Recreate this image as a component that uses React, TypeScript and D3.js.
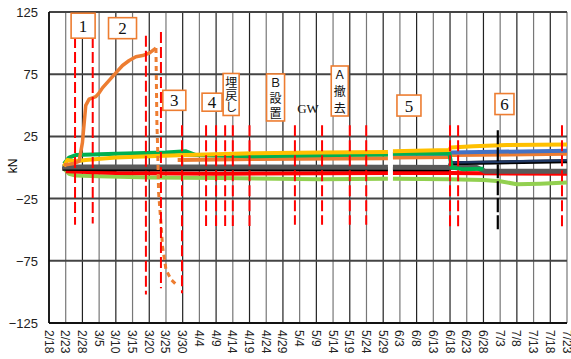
import * as d3 from "d3";
import { useEffect, useRef } from "react";

type Pt = [string, number | null];

// tick labels
const xTickLabels = ["2/18","2/23","2/28","3/5","3/10","3/15","3/20","3/25","3/30","4/4","4/9","4/14","4/19","4/24","4/29","5/4","5/9","5/14","5/19","5/24","5/29","6/3","6/8","6/13","6/18","6/23","6/28","7/3","7/8","7/13","7/18","7/23"];
const yTicks = [125, 75, 25, -25, -75, -125];

// measured series (kN)
const lightGreenSeries: Pt[] = [["2/22.5",-1],["2/24",-5],["2/26",-6.5],["3/5",-7],["3/20",-8],["4/10",-8.5],["5/10",-9.5],["5/30.4",-9],["5/31",null],["5/31.9",-9],["6/18",-9.5],["6/28",-10],["7/3",-11],["7/8",-13.5],["7/15",-13],["7/23",-12]];
const redSeries: Pt[] = [["2/23",-3],["3/10",-4.5],["4/10",-5],["5/30.4",-4.5],["5/31",null],["5/31.9",-4.5],["6/18",-4.5],["7/23",-5]];
const blackSeries: Pt[] = [["2/22",-1],["3/10",-1.5],["5/30.4",-1.5],["5/31",null],["5/31.9",-1.5],["6/17.8",-1.5],["6/18.2",3.5],["7/23",5]];
const navySeries: Pt[] = [["6/18.2",4],["7/23",5.8]];
const graySeries: Pt[] = [["2/22",0.5],["3/20",0.5],["5/30.4",0.3],["5/31",null],["5/31.9",0.3],["6/26",0],["6/28.5",-3],["7/23",-3]];
const orange2Series: Pt[] = [["3/28.5",6],["4/20",6.8],["5/30.4",7.5],["5/31",null],["5/31.9",8],["6/17.8",8.5],["6/18.2",10],["7/23",11]];
const blueSeries: Pt[] = [["3/31",10],["5/30.4",11],["5/31",null],["5/31.9",11],["6/17.8",11],["6/18.2",12],["7/23",13.5]];
const greenSeries: Pt[] = [["2/22.5",3],["2/24",8],["2/26",10],["3/10",11],["3/25",12],["3/31",13],["4/3",10],["4/20",9],["5/15",10],["5/30.4",10.5],["5/31",null],["5/31.9",11],["6/17.8",11.5],["6/18.5",0],["6/22",-1.5],["6/28",-1]];
const yellowSeries: Pt[] = [["2/22.5",1],["2/23.5",6],["2/26",5],["3/1",6],["3/10",8],["3/20",9],["3/31",10],["4/20",11.5],["5/10",12],["5/30.4",12.5],["5/31",null],["5/31.9",13],["6/17.8",14],["6/18.2",16],["6/25",17],["7/5",18],["7/23",18.5]];
const orange1Series: Pt[] = [["2/22.5",2],["2/25",3],["2/27",5],["2/28",20],["3/1",50],["3/2",55],["3/4",57],["3/5",60],["3/6",64],["3/8",70],["3/10",76],["3/12",82],["3/14",86],["3/16",89],["3/18",90],["3/20",92],["3/22",96]];
const collapseSeries: Pt[] = [["3/22",96],["3/22.3",35],["3/22.5",17],["3/22.8",-20],["3/23.5",-45],["3/24",-64],["3/25",-82],["3/26.5",-90],["3/28",-94]];

// event markers: date, top, bottom (kN)
const eventDates = ["2/25.8","3/3.1","3/19","3/23.5","3/29.8","4/6","4/9","4/11.7","4/14","4/19","5/2.6","5/10.7","5/19","5/23.9","6/18","6/20.4","7/21.5"];
const eventTops = [105,105,106,109,34,34,34,34,34,34,34,34,34,34,34,34,34];
const eventBottoms = [-46,-45,-102,-97,-101,-47,-47,-47,-47,-47,-46,-46,-46,-46,-48,-48,-48];
const blackEvent = { date: "7/2.3", top: 30, bottom: -50 };

// annotations
const notes = [
  { text: "1", date: "2/28.2", value: 114, w: 24, h: 25, vertical: false },
  { text: "2", date: "3/12", value: 112, w: 28, h: 21, vertical: false },
  { text: "3", date: "3/27.5", value: 54, w: 23, h: 20, vertical: false },
  { text: "4", date: "4/7.8", value: 52.5, w: 20, h: 18, vertical: false },
  { text: "埋戻し", date: "4/13.5", value: 58.7, w: 16, h: 42, vertical: true },
  { text: "Ｂ設置", date: "4/26.8", value: 56.3, w: 18, h: 47, vertical: true },
  { text: "Ａ撤去", date: "5/16", value: 61.5, w: 17, h: 50, vertical: true },
  { text: "5", date: "6/5.7", value: 49.8, w: 24, h: 21, vertical: false },
  { text: "6", date: "7/4.3", value: 51, w: 19, h: 21, vertical: false },
];
const gwNote = { text: "GW", date: "5/6.5", value: 47.8 };

const parseDate = (s: string) => {
  const [m, d] = s.split("/");
  const dd = parseFloat(d);
  const day = Math.floor(dd);
  return new Date(2015, +m - 1, day, Math.round((dd - day) * 24));
};

const App = () => {
  const ref = useRef<SVGSVGElement>(null);

  useEffect(() => {
    const svg = d3.select(ref.current);
    svg.selectAll("*").remove();

    const x = d3.scaleTime().domain([parseDate("2/18"), parseDate("7/23")]).range([49, 567]);
    const y = d3.scaleLinear().domain([-125, 125]).range([323, 12]);

    svg.append("rect").attr("width", 571).attr("height", 359).attr("fill", "#fff");

    // vertical grid
    svg.append("g")
      .selectAll("line")
      .data(xTickLabels)
      .join("line")
      .attr("x1", (d) => x(parseDate(d)))
      .attr("x2", (d) => x(parseDate(d)))
      .attr("y1", y(125))
      .attr("y2", y(-125))
      .attr("stroke", (d, i) => (i % 2 ? "#777" : "#222"))
      .attr("stroke-width", 1.2);

    // horizontal grid
    svg.append("g")
      .selectAll("line")
      .data(yTicks)
      .join("line")
      .attr("x1", 49)
      .attr("x2", 567)
      .attr("y1", (d) => y(d))
      .attr("y2", (d) => y(d))
      .attr("stroke", "#444")
      .attr("stroke-width", 2);

    // axes frame
    svg.append("line").attr("x1", 49).attr("x2", 49).attr("y1", y(125)).attr("y2", y(-125)).attr("stroke", "#000").attr("stroke-width", 1.5);
    svg.append("line").attr("x1", 49).attr("x2", 567).attr("y1", y(-125)).attr("y2", y(-125)).attr("stroke", "#000").attr("stroke-width", 1.5);

    // y tick labels
    svg.append("g")
      .selectAll("text")
      .data(yTicks)
      .join("text")
      .attr("x", 38)
      .attr("y", (d) => y(d) + 5)
      .attr("text-anchor", "end")
      .attr("font-family", "Liberation Sans, Arial, sans-serif")
      .attr("font-size", 13)
      .attr("fill", "#222")
      .text((d) => String(d).replace("-", "−"));

    // x tick labels
    svg.append("g")
      .selectAll("text")
      .data(xTickLabels)
      .join("text")
      .attr("transform", (d) => `translate(${x(parseDate(d)) - 4.5},330) rotate(90)`)
      .attr("font-family", "Liberation Sans, Arial, sans-serif")
      .attr("font-size", 12)
      .attr("fill", "#222")
      .text((d) => d);

    // y label
    svg.append("text")
      .attr("transform", "translate(17,166) rotate(-90)")
      .attr("text-anchor", "middle")
      .attr("font-family", "Liberation Sans, Arial, sans-serif")
      .attr("font-size", 12)
      .text("kN");

    const line = d3
      .line<Pt>()
      .defined((d) => d[1] !== null)
      .x((d) => x(parseDate(d[0])))
      .y((d) => y(d[1] as number));

    const series: [Pt[], string, number, string?][] = [
      [lightGreenSeries, "#92D050", 4],
      [redSeries, "#FF0000", 4],
      [blackSeries, "#000000", 4],
      [navySeries, "#203864", 2.5],
      [graySeries, "#595959", 5],
      [orange2Series, "#ED7D31", 4],
      [blueSeries, "#4472C4", 4],
      [greenSeries, "#00B050", 4],
      [yellowSeries, "#FFC000", 4],
      [orange1Series, "#ED7D31", 3.5],
      [collapseSeries, "#ED7D31", 3, "5,4"],
    ];

    svg.append("g")
      .selectAll("path")
      .data(series)
      .join("path")
      .attr("d", (s) => line(s[0]))
      .attr("fill", "none")
      .attr("stroke", (s) => s[1])
      .attr("stroke-width", (s) => s[2])
      .attr("stroke-dasharray", (s) => s[3] ?? null)
      .attr("stroke-linejoin", "round");

    // event markers
    svg.append("g")
      .selectAll("line")
      .data(eventDates)
      .join("line")
      .attr("x1", (d) => x(parseDate(d)))
      .attr("x2", (d) => x(parseDate(d)))
      .attr("y1", (d, i) => y(eventTops[i]))
      .attr("y2", (d, i) => y(eventBottoms[i]))
      .attr("stroke", "#FF0000")
      .attr("stroke-width", 2)
      .attr("stroke-dasharray", "11,4");

    svg.append("line")
      .attr("x1", x(parseDate(blackEvent.date)))
      .attr("x2", x(parseDate(blackEvent.date)))
      .attr("y1", y(blackEvent.top))
      .attr("y2", y(blackEvent.bottom))
      .attr("stroke", "#000")
      .attr("stroke-width", 2.2)
      .attr("stroke-dasharray", "14,3");

    // annotation boxes
    const ng = svg.append("g")
      .selectAll("g")
      .data(notes)
      .join("g")
      .attr("transform", (n) => `translate(${x(parseDate(n.date))},${y(n.value)})`);

    ng.append("rect")
      .attr("x", (n) => -n.w / 2)
      .attr("y", (n) => -n.h / 2)
      .attr("width", (n) => n.w)
      .attr("height", (n) => n.h)
      .attr("fill", "#fff")
      .attr("stroke", "#ED7D31")
      .attr("stroke-width", 1.6);

    // single-character number labels
    ng.filter((n) => !n.vertical)
      .append("text")
      .attr("y", 6)
      .attr("text-anchor", "middle")
      .attr("font-family", "Liberation Serif, serif")
      .attr("font-size", 17)
      .attr("fill", "#111")
      .text((n) => n.text);

    // vertical Japanese labels
    const fs = 12;
    ng.filter((n) => n.vertical)
      .append("text")
      .attr("x", 0)
      .attr("y", (n) => -n.h / 2 + 3)
      .attr("writing-mode", "vertical-rl")
      .style("writing-mode", "vertical-rl")
      .attr("letter-spacing", (n) => (n.h - 17) / (Array.from(n.text).length - 1) - fs)
      .attr("font-family", "Noto Sans CJK JP, sans-serif")
      .attr("font-size", fs)
      .attr("fill", "#111")
      .text((n) => n.text);

    svg.append("text")
      .attr("x", x(parseDate(gwNote.date)))
      .attr("y", y(gwNote.value) + 5)
      .attr("text-anchor", "middle")
      .attr("font-family", "Liberation Serif, serif")
      .attr("font-size", 13)
      .attr("fill", "#111")
      .text(gwNote.text);
  }, []);

  return <svg ref={ref} width={571} height={359} style={{ position: "absolute", left: 0, top: 0 }} />;
};

export default App;
